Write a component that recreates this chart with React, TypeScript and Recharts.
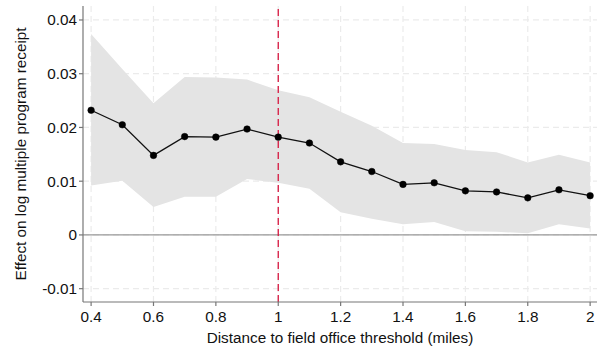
import React from 'react';
import {
  ComposedChart,
  Area,
  Line,
  XAxis,
  YAxis,
  CartesianGrid,
  ReferenceLine,
} from 'recharts';

// Distance bins (miles) and estimated effects with 95% confidence bands
const distances = [0.4, 0.5, 0.6, 0.7, 0.8, 0.9, 1.0, 1.1, 1.2, 1.3, 1.4, 1.5, 1.6, 1.7, 1.8, 1.9, 2.0];
const estimates = [0.0232, 0.0205, 0.0148, 0.0183, 0.0182, 0.0197, 0.0182, 0.0171, 0.0136, 0.0118, 0.0094, 0.0097, 0.0082, 0.008, 0.0069, 0.0084, 0.0073];
const upperCI = [0.0374, 0.0309, 0.0245, 0.0294, 0.0293, 0.0289, 0.0269, 0.0256, 0.0229, 0.0203, 0.0171, 0.0169, 0.0158, 0.0154, 0.0135, 0.0149, 0.0135];
const lowerCI = [0.0092, 0.0101, 0.0052, 0.0071, 0.0071, 0.0104, 0.0097, 0.0086, 0.0042, 0.003, 0.002, 0.0024, 0.0007, 0.0006, 0.0003, 0.002, 0.0012];

const xTicks = [0.4, 0.6, 0.8, 1, 1.2, 1.4, 1.6, 1.8, 2];
const yTicks = [-0.01, 0, 0.01, 0.02, 0.03, 0.04];
const threshold = 1;

const data = distances.map((d, i) => ({
  distance: d,
  estimate: estimates[i],
  band: [lowerCI[i], upperCI[i]],
}));

const FONT = 'Liberation Sans, Arial, Helvetica, sans-serif';
const FONT_SIZE = 15.3;
const textStyle = { fontSize: FONT_SIZE, fill: '#111', fontFamily: FONT };

export default function App() {
  return (
    <div style={{ position: 'fixed', left: 0, top: 0, background: '#fff' }}>
      <ComposedChart
        width={607}
        height={349}
        data={data}
        margin={{ top: 6, right: 10, bottom: 0, left: 0 }}
        style={{ fontFamily: FONT }}
      >
        <CartesianGrid
          stroke="#ebebeb"
          strokeDasharray="6 4"
          strokeWidth={1.2}
          horizontalValues={yTicks}
          verticalValues={xTicks}
        />
        <XAxis
          dataKey="distance"
          type="number"
          domain={[0.374, 2.022]}
          ticks={xTicks}
          allowDataOverflow
          tickFormatter={(v: number) => String(Math.round(v * 10) / 10)}
          tick={textStyle}
          tickSize={4}
          tickMargin={5}
          height={47}
          stroke="#777"
          strokeWidth={1.2}
          label={{
            value: 'Distance to field office threshold (miles)',
            position: 'insideBottom',
            offset: 6,
            style: textStyle,
          }}
        />
        <YAxis
          type="number"
          domain={[-0.01248, 0.0426]}
          ticks={yTicks}
          allowDataOverflow
          tickFormatter={(v: number) => String(Math.round(v * 100) / 100)}
          tick={textStyle}
          tickSize={4}
          tickMargin={2}
          width={83}
          stroke="#777"
          strokeWidth={1.2}
          label={{
            value: 'Effect on log multiple program receipt',
            angle: -90,
            position: 'insideLeft',
            offset: 21,
            style: { ...textStyle, textAnchor: 'middle' },
          }}
        />
        <Area
          dataKey="band"
          type="linear"
          stroke="none"
          fill="#e4e4e4"
          fillOpacity={1}
          isAnimationActive={false}
          activeDot={false}
        />
        <ReferenceLine y={0} stroke="#999" strokeWidth={1.3} />
        <ReferenceLine x={threshold} stroke="#d6163f" strokeWidth={1.3} strokeDasharray="7 4" />
        <Line
          dataKey="estimate"
          type="linear"
          stroke="#111"
          strokeWidth={1.3}
          dot={{ r: 3.3, fill: '#000', stroke: '#000', strokeWidth: 0.5 }}
          activeDot={false}
          isAnimationActive={false}
        />
      </ComposedChart>
    </div>
  );
}
